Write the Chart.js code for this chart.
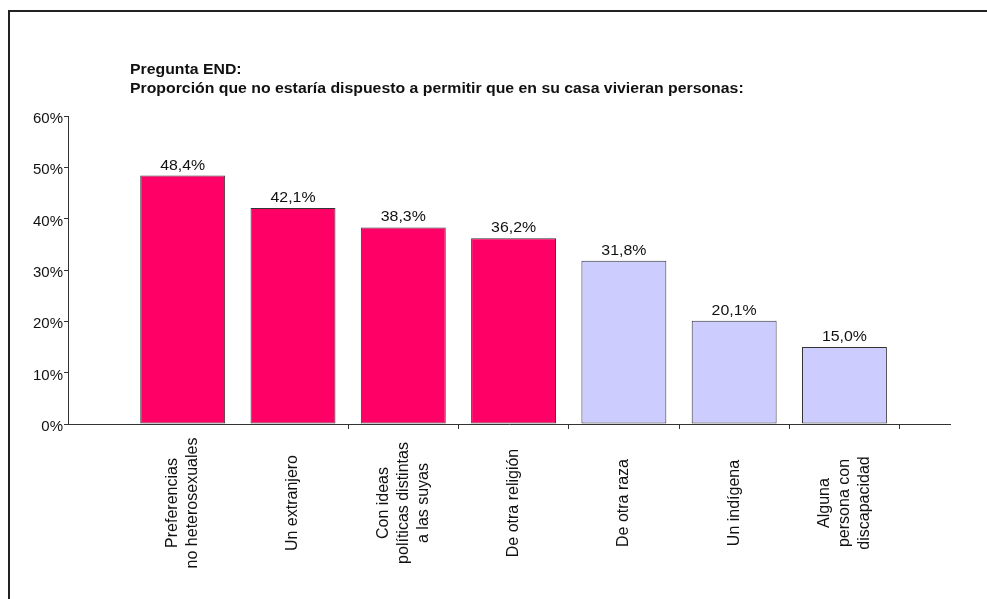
<!DOCTYPE html>
<html>
<head>
<meta charset="utf-8">
<script src="https://cdn.jsdelivr.net/npm/chart.js@4/dist/chart.umd.min.js"></script>
<style>
  body { margin: 0; background: #fff; }
  canvas { display: block; }
</style>
</head>
<body>
<canvas id="chart" width="987" height="599"></canvas>
<script>
// Data
const titleLines = [
    "Pregunta END:",
    "Proporción que no estaría dispuesto a permitir que en su casa vivieran personas:"
];
const categories = [
    ["Preferencias", "no heterosexuales"],
    ["Un extranjero"],
    ["Con ideas", "políticas distintas", "a las suyas"],
    ["De otra religión"],
    ["De otra raza"],
    ["Un indígena"],
    ["Alguna", "persona con", "discapacidad"]
];
const values = [48.4, 42.1, 38.3, 36.2, 31.8, 20.1, 15.0];
const groups = ["a", "a", "a", "a", "b", "b", "b"];
const yTicks = [0, 10, 20, 30, 40, 50, 60];

const groupColors = { a: "#FF0066", b: "#CCCCFF" };
const FONT = "'Liberation Sans', Arial, Helvetica, sans-serif";

function pct(v) {
    return v.toFixed(1).replace(".", ",") + "%";
}

// draw text with a little horizontal stretch like the original
function stretchText(ctx, text, x, y, sx) {
    ctx.save();
    ctx.translate(x, y);
    ctx.scale(sx, 1);
    ctx.fillText(text, 0, 0);
    ctx.restore();
}

const textPlugin = {
    id: "textPlugin",
    beforeDraw(chart) {
        const ctx = chart.ctx;
        ctx.save();
        ctx.fillStyle = "#fff";
        ctx.fillRect(0, 0, chart.width, chart.height);
        // frame (only the top and left edges are visible)
        ctx.strokeStyle = "#222";
        ctx.lineWidth = 2;
        ctx.beginPath();
        ctx.moveTo(9, chart.height);
        ctx.lineTo(9, 11);
        ctx.lineTo(chart.width, 11);
        ctx.stroke();
        ctx.restore();
    },
    afterDatasetsDraw(chart) {
        const ctx = chart.ctx;
        const xs = chart.scales.x;
        const ys = chart.scales.y;
        const area = chart.chartArea;
        ctx.save();
        ctx.fillStyle = "#111";

        // title
        ctx.font = "bold 14px " + FONT;
        ctx.textAlign = "left";
        ctx.textBaseline = "alphabetic";
        stretchText(ctx, titleLines[0], 130, 74, 1.13);
        stretchText(ctx, titleLines[1], 130, 93, 1.13);

        // y tick labels
        ctx.font = "14px " + FONT;
        ctx.textAlign = "right";
        ctx.textBaseline = "middle";
        yTicks.forEach(function (t) {
            stretchText(ctx, t + "%", area.left - 5, ys.getPixelForValue(t) + 3, 1.07);
        });

        // value labels above bars
        ctx.font = "15px " + FONT;
        ctx.textAlign = "center";
        ctx.textBaseline = "alphabetic";
        const meta = chart.getDatasetMeta(0);
        meta.data.forEach(function (bar, i) {
            stretchText(ctx, pct(values[i]), bar.x, bar.y - 6, 1.06);
        });

        // rotated category labels
        ctx.font = "16px " + FONT;
        ctx.textAlign = "center";
        ctx.textBaseline = "middle";
        const lh = 20;
        categories.forEach(function (lines, i) {
            const cx = xs.getPixelForValue(i);
            ctx.save();
            ctx.translate(cx, area.bottom + 79);
            ctx.rotate(-Math.PI / 2);
            lines.forEach(function (line, j) {
                ctx.fillText(line, 0, (j - (lines.length - 1) / 2) * lh);
            });
            ctx.restore();
        });
        ctx.restore();
    }
};

const ctx = document.getElementById("chart").getContext("2d");

window.barChart = new Chart(ctx, {
    type: "bar",
    data: {
        datasets: [
            {
                data: values.map(function (v, i) { return { x: i, y: v }; }),
                backgroundColor: groups.map(function (g) { return groupColors[g]; }),
                borderColor: "#333",
                borderWidth: 1,
                borderSkipped: false,
                barPercentage: 0.77,
                categoryPercentage: 1
            }
        ]
    },
    options: {
        responsive: false,
        animation: false,
        devicePixelRatio: 1,
        layout: {
            padding: { left: 64, top: 116, right: 37, bottom: 170 }
        },
        plugins: {
            legend: { display: false },
            tooltip: { enabled: false },
            title: { display: false }
        },
        scales: {
            x: {
                type: "linear",
                min: -1.04,
                max: 6.957,
                offset: false,
                afterBuildTicks: function (scale) {
                    // tick marks between the bars, as in the original
                    scale.ticks = [1.5, 2.5, 3.5, 4.5, 5.5, 6.5].map(function (v) { return { value: v }; });
                },
                ticks: { display: false },
                grid: {
                    offset: false,
                    drawOnChartArea: false,
                    drawTicks: true,
                    tickLength: 5,
                    color: "#333"
                },
                border: { display: true, color: "#333", width: 1 }
            },
            y: {
                min: 0,
                max: 60,
                afterBuildTicks: function (scale) {
                    scale.ticks = yTicks.map(function (v) { return { value: v }; });
                },
                ticks: { display: false },
                grid: {
                    drawOnChartArea: false,
                    drawTicks: true,
                    tickLength: 4,
                    color: "#333"
                },
                border: { display: true, color: "#333", width: 1 }
            }
        }
    },
    plugins: [textPlugin]
});
</script>
</body>
</html>
